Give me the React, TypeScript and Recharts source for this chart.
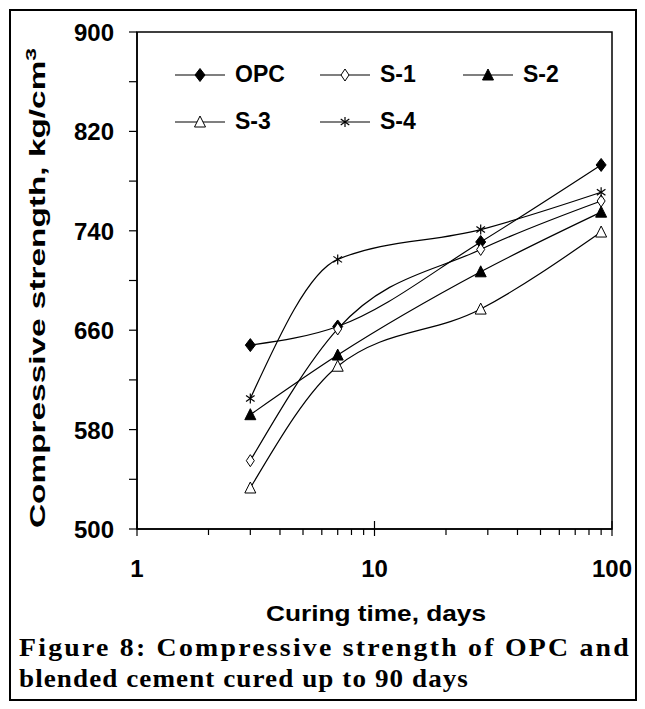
import React from "react";
import {
  LineChart,
  Line,
  XAxis,
  YAxis,
  Legend,
  ReferenceArea,
} from "recharts";

const days = [3, 7, 28, 90];
const opc = [648, 663, 731, 793];
const s1 = [555, 661, 725, 764];
const s2 = [592, 640, 707, 755];
const s3 = [533, 631, 677, 739];
const s4 = [605, 717, 741, 771];

const xTicks = [1, 2, 3, 4, 5, 6, 7, 8, 9, 10, 20, 30, 40, 50, 60, 70, 80, 90, 100];
const xMajor = [1, 10, 100];
const yTicks = [500, 540, 580, 620, 660, 700, 740, 780, 820, 860, 900];
const yLabeled = [500, 580, 660, 740, 820, 900];

const rows = days.map((d, i) => ({
  day: d,
  opc: opc[i],
  s1: s1[i],
  s2: s2[i],
  s3: s3[i],
  s4: s4[i],
}));

const FONT = "'Liberation Sans', Arial, sans-serif";
const SERIF = "'Liberation Serif', 'Times New Roman', serif";

type Shape = "diamondFill" | "diamondOpen" | "triFill" | "triOpen" | "star";

const Marker = ({ cx, cy, shape }: { cx: number; cy: number; shape: Shape }) => {
  if (shape === "diamondFill" || shape === "diamondOpen") {
    const w = shape === "diamondFill" ? 5 : 4;
    const h = shape === "diamondFill" ? 6.5 : 6;
    return (
      <path
        d={`M${cx},${cy - h} L${cx + w},${cy} L${cx},${cy + h} L${cx - w},${cy} Z`}
        fill={shape === "diamondFill" ? "#000" : "#fff"}
        stroke="#000"
        strokeWidth={1}
      />
    );
  }
  if (shape === "triFill" || shape === "triOpen") {
    return (
      <path
        d={`M${cx},${cy - 6} L${cx + 5.5},${cy + 5} L${cx - 5.5},${cy + 5} Z`}
        fill={shape === "triFill" ? "#000" : "#fff"}
        stroke="#000"
        strokeWidth={1}
      />
    );
  }
  return (
    <g stroke="#000" strokeWidth={1.2}>
      <line x1={cx} y1={cy - 5} x2={cx} y2={cy + 5} />
      <line x1={cx - 4.3} y1={cy - 3} x2={cx + 4.3} y2={cy + 3} />
      <line x1={cx - 4.3} y1={cy + 3} x2={cx + 4.3} y2={cy - 3} />
    </g>
  );
};

const series: { key: string; name: string; shape: Shape }[] = [
  { key: "opc", name: "OPC", shape: "diamondFill" },
  { key: "s1", name: "S-1", shape: "diamondOpen" },
  { key: "s2", name: "S-2", shape: "triFill" },
  { key: "s3", name: "S-3", shape: "triOpen" },
  { key: "s4", name: "S-4", shape: "star" },
];

const XTick = ({ x, y, payload }: any) => {
  const v = payload.value;
  const major = xMajor.includes(v);
  return (
    <g>
      <line x1={x} x2={x} y1={major ? y - 8 : y} y2={major ? y + 7 : y + 6} stroke="#000" strokeWidth={1.2} />
      {major && (
        <text x={x} y={y + 48} textAnchor="middle" fontFamily={FONT} fontWeight="bold" fontSize={24} fill="#000">
          {v}
        </text>
      )}
    </g>
  );
};

const YTick = ({ x, y, payload }: any) => {
  const v = payload.value;
  return (
    <g>
      <line x1={x - 8} x2={x} y1={y} y2={y} stroke="#000" strokeWidth={1.2} />
      {yLabeled.includes(v) && (
        <text x={x - 23} y={y + 9} textAnchor="end" fontFamily={FONT} fontWeight="bold" fontSize={24} fill="#000">
          {v}
        </text>
      )}
    </g>
  );
};

const LegendBox = ({ payload }: any) => (
  <div style={{ display: "flex", flexWrap: "wrap", width: 440 }}>
    {(payload || []).map((p: any, i: number) => {
      const s = series.find((q) => q.key === p.dataKey)!;
      return (
        <div key={s.key} style={{ width: i % 3 === 0 ? 145 : 143, height: 47, display: "flex", alignItems: "center" }}>
          <svg width={52} height={20}>
            <line x1={0} x2={50} y1={10} y2={10} stroke="#000" strokeWidth={1.2} />
            <Marker cx={25} cy={10} shape={s.shape} />
          </svg>
          <span style={{ marginLeft: 8, fontFamily: FONT, fontWeight: "bold", fontSize: 23, color: "#000" }}>
            {s.name}
          </span>
        </div>
      );
    })}
  </div>
);

export default function App() {
  return (
    <div style={{ position: "absolute", left: 0, top: 0, width: 645, height: 709, background: "#fff" }}>
      <div
        style={{
          position: "absolute",
          left: 9,
          top: 9,
          width: 628,
          height: 692,
          border: "2px solid #000",
          boxSizing: "border-box",
        }}
      />
      <div style={{ position: "absolute", left: 0, top: 0 }}>
        <LineChart width={645} height={630} data={rows} margin={{ top: 32, right: 33, left: 0, bottom: 30 }}>
          <XAxis
            dataKey="day"
            type="number"
            scale="log"
            domain={[1, 100]}
            ticks={xTicks}
            interval={0}
            tick={<XTick />}
            tickLine={false}
            tickSize={0}
            tickMargin={0}
            axisLine={{ stroke: "#000", strokeWidth: 1.5 }}
            height={71}
            allowDataOverflow
            label={{
              content: () => (
                <text
                  x={376}
                  y={621}
                  textAnchor="middle"
                  fontFamily={FONT}
                  fontWeight="bold"
                  fontSize={22}
                  textLength={220}
                  lengthAdjust="spacingAndGlyphs"
                  fill="#000"
                >
                  Curing time, days
                </text>
              ),
            }}
          />
          <YAxis
            type="number"
            domain={[500, 900]}
            ticks={yTicks}
            interval={0}
            tick={<YTick />}
            tickLine={false}
            tickSize={0}
            tickMargin={0}
            axisLine={{ stroke: "#000", strokeWidth: 1.5 }}
            width={137}
            label={{
              content: () => (
                <text
                  x={45}
                  y={288}
                  transform="rotate(-90, 45, 288)"
                  textAnchor="middle"
                  fontFamily={FONT}
                  fontWeight="bold"
                  fontSize={22}
                  textLength={480}
                  lengthAdjust="spacingAndGlyphs"
                  fill="#000"
                >
                  Compressive strength, kg/cm
                  <tspan dy={-9} fontSize={15}>3</tspan>
                </text>
              ),
            }}
          />
          <ReferenceArea x1={1} x2={100} y1={500} y2={900} fill="none" stroke="#000" strokeWidth={1.5} ifOverflow="visible" />
          <Legend
            layout="horizontal"
            verticalAlign="middle"
            align="center"
            content={<LegendBox />}
            wrapperStyle={{ position: "absolute", top: 51, left: 175, width: 440 }}
          />
          {series.map((s) => (
            <Line
              key={s.key}
              dataKey={s.key}
              name={s.name}
              type="monotone"
              stroke="#000"
              strokeWidth={1.2}
              isAnimationActive={false}
              dot={(p: any) => <Marker key={`${s.key}-${p.index}`} cx={p.cx} cy={p.cy} shape={s.shape} />}
              activeDot={false}
            />
          ))}
        </LineChart>
      </div>
      <svg style={{ position: "absolute", left: 0, top: 0 }} width={645} height={709}>
        <text
          x={19}
          y={656}
          fontFamily={SERIF}
          fontWeight="bold"
          fontSize={25}
          letterSpacing={2}
          textLength={612}
          lengthAdjust="spacingAndGlyphs"
          fill="#000"
        >
          Figure 8: Compressive strength of OPC and
        </text>
        <text
          x={19}
          y={687}
          fontFamily={SERIF}
          fontWeight="bold"
          fontSize={25}
          letterSpacing={1}
          textLength={450}
          lengthAdjust="spacingAndGlyphs"
          fill="#000"
        >
          blended cement cured up to 90 days
        </text>
      </svg>
    </div>
  );
}
